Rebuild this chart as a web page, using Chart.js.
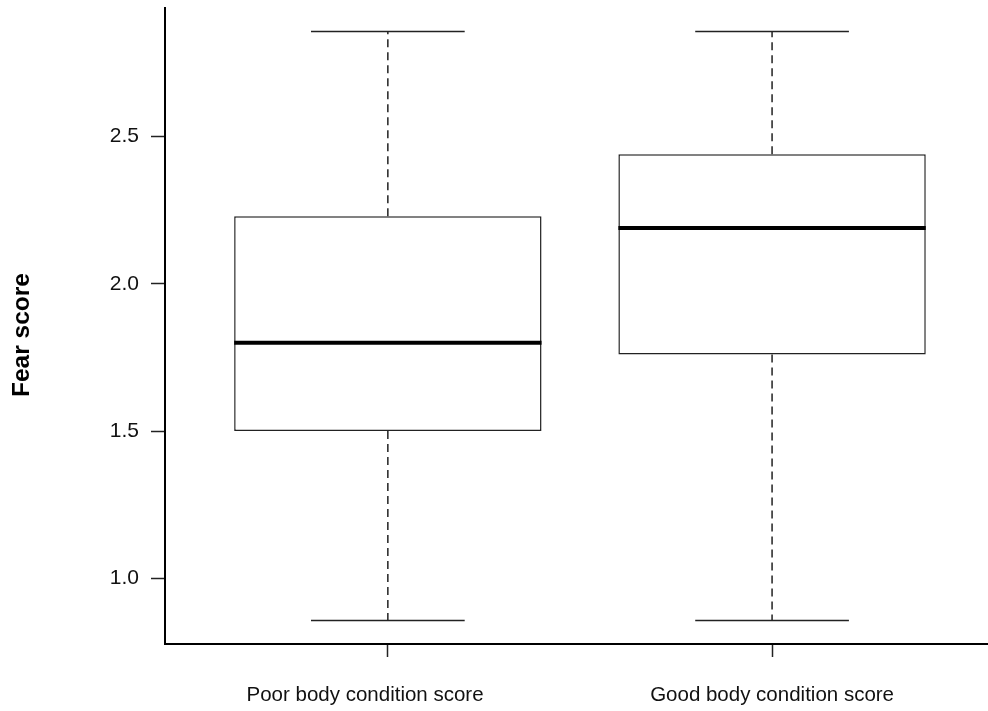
<!DOCTYPE html>
<html>
<head>
<meta charset="utf-8">
<script src="https://cdn.jsdelivr.net/npm/chart.js@4"></script>
<style>
  html, body { margin: 0; padding: 0; background: #fff; overflow: hidden; }
  #wrap { width: 988px; height: 711px; position: relative; }
</style>
</head>
<body>
<div id="wrap"><canvas id="c"></canvas></div>
<script>
// Fear score by body condition group (box-and-whisker summary)
const categories   = ['Poor body condition score        ', 'Good body condition score'];
const positions    = [1, 2];
const whiskerLow   = [0.857, 0.857];
const lowerQuart   = [1.50, 1.76];
const medians      = [1.80, 2.19];
const upperQuart   = [2.23, 2.44];
const whiskerHigh  = [2.857, 2.857];
const yTickValues  = [1.0, 1.5, 2.0, 2.5];
const yTitle       = 'Fear score';

const FONT = "'Liberation Sans', Arial, Helvetica, sans-serif";

// medians, whiskers and caps drawn on top of the floating-bar boxes
const boxExtras = {
  id: 'boxExtras',
  afterDatasetsDraw(chart) {
    const { ctx, scales: { x, y } } = chart;
    const meta = chart.getDatasetMeta(0);
    ctx.save();
    positions.forEach((p, i) => {
      const cx = x.getPixelForValue(p);
      const bw = meta.data[i].width;
      const capHalf = bw / 4;
      // dashed whiskers
      ctx.strokeStyle = '#222';
      ctx.lineWidth = 1.5;
      ctx.setLineDash([8, 5]);
      ctx.beginPath();
      ctx.moveTo(cx, y.getPixelForValue(upperQuart[i]));
      ctx.lineTo(cx, y.getPixelForValue(whiskerHigh[i]));
      ctx.moveTo(cx, y.getPixelForValue(lowerQuart[i]));
      ctx.lineTo(cx, y.getPixelForValue(whiskerLow[i]));
      ctx.stroke();
      // caps
      ctx.setLineDash([]);
      ctx.beginPath();
      const yh = y.getPixelForValue(whiskerHigh[i]);
      const yl = y.getPixelForValue(whiskerLow[i]);
      ctx.moveTo(cx - capHalf, yh); ctx.lineTo(cx + capHalf, yh);
      ctx.moveTo(cx - capHalf, yl); ctx.lineTo(cx + capHalf, yl);
      ctx.stroke();
      // median
      ctx.strokeStyle = '#000';
      ctx.lineWidth = 4;
      ctx.beginPath();
      const ym = y.getPixelForValue(medians[i]);
      ctx.moveTo(cx - bw / 2, ym); ctx.lineTo(cx + bw / 2, ym);
      ctx.stroke();
    });
    ctx.restore();
  },
  // rotated y-axis title in the left margin
  afterDraw(chart) {
    const { ctx } = chart;
    ctx.save();
    ctx.translate(22, 335);
    ctx.rotate(-Math.PI / 2);
    ctx.font = `bold 24.5px ${FONT}`;
    ctx.fillStyle = '#000';
    ctx.textAlign = 'center';
    ctx.textBaseline = 'middle';
    ctx.fillText(yTitle, 0, 0);
    ctx.restore();
  }
};

new Chart(document.getElementById('c'), {
  type: 'bar',
  data: {
    datasets: [{
      data: positions.map((p, i) => ({ x: p, y: [lowerQuart[i], upperQuart[i]] })),
      backgroundColor: '#ffffff',
      borderColor: '#222',
      borderWidth: 1.5,
      borderSkipped: false,
      categoryPercentage: 0.8,
      barPercentage: 1.0
    }]
  },
  options: {
    responsive: true,
    maintainAspectRatio: false,
    animation: false,
    layout: { padding: { top: 8, right: 0, left: 0, bottom: 0 } },
    plugins: { legend: { display: false }, tooltip: { enabled: false } },
    scales: {
      x: {
        type: 'linear',
        min: 0.42,
        max: 2.562,
        offset: false,
        afterBuildTicks(s) { s.ticks = positions.map(v => ({ value: v })); },
        afterFit(s) { s.height = 67; s.paddingLeft = 0; s.paddingRight = 0; },
        ticks: {
          callback: (v) => categories[positions.indexOf(v)],
          color: '#111',
          font: { family: FONT, size: 20.5 },
          padding: 26,
          maxRotation: 0,
          autoSkip: false
        },
        grid: {
          display: true, drawOnChartArea: false, drawTicks: true,
          tickLength: 13, tickColor: '#222', tickWidth: 1.5, offset: false
        },
        border: { display: true, color: '#000', width: 2 }
      },
      y: {
        min: 0.777,
        max: 2.937,
        afterBuildTicks(s) { s.ticks = yTickValues.map(v => ({ value: v })); },
        afterFit(s) { s.width = 165; s.paddingTop = 0; s.paddingBottom = 0; },
        ticks: {
          callback: (v) => Number(v).toFixed(1),
          color: '#111',
          font: { family: FONT, size: 21 },
          padding: 12
        },
        grid: {
          display: true, drawOnChartArea: false, drawTicks: true,
          tickLength: 14, tickColor: '#222', tickWidth: 1.5
        },
        border: { display: true, color: '#000', width: 2 }
      }
    }
  },
  plugins: [boxExtras]
});
</script>
</body>
</html>
